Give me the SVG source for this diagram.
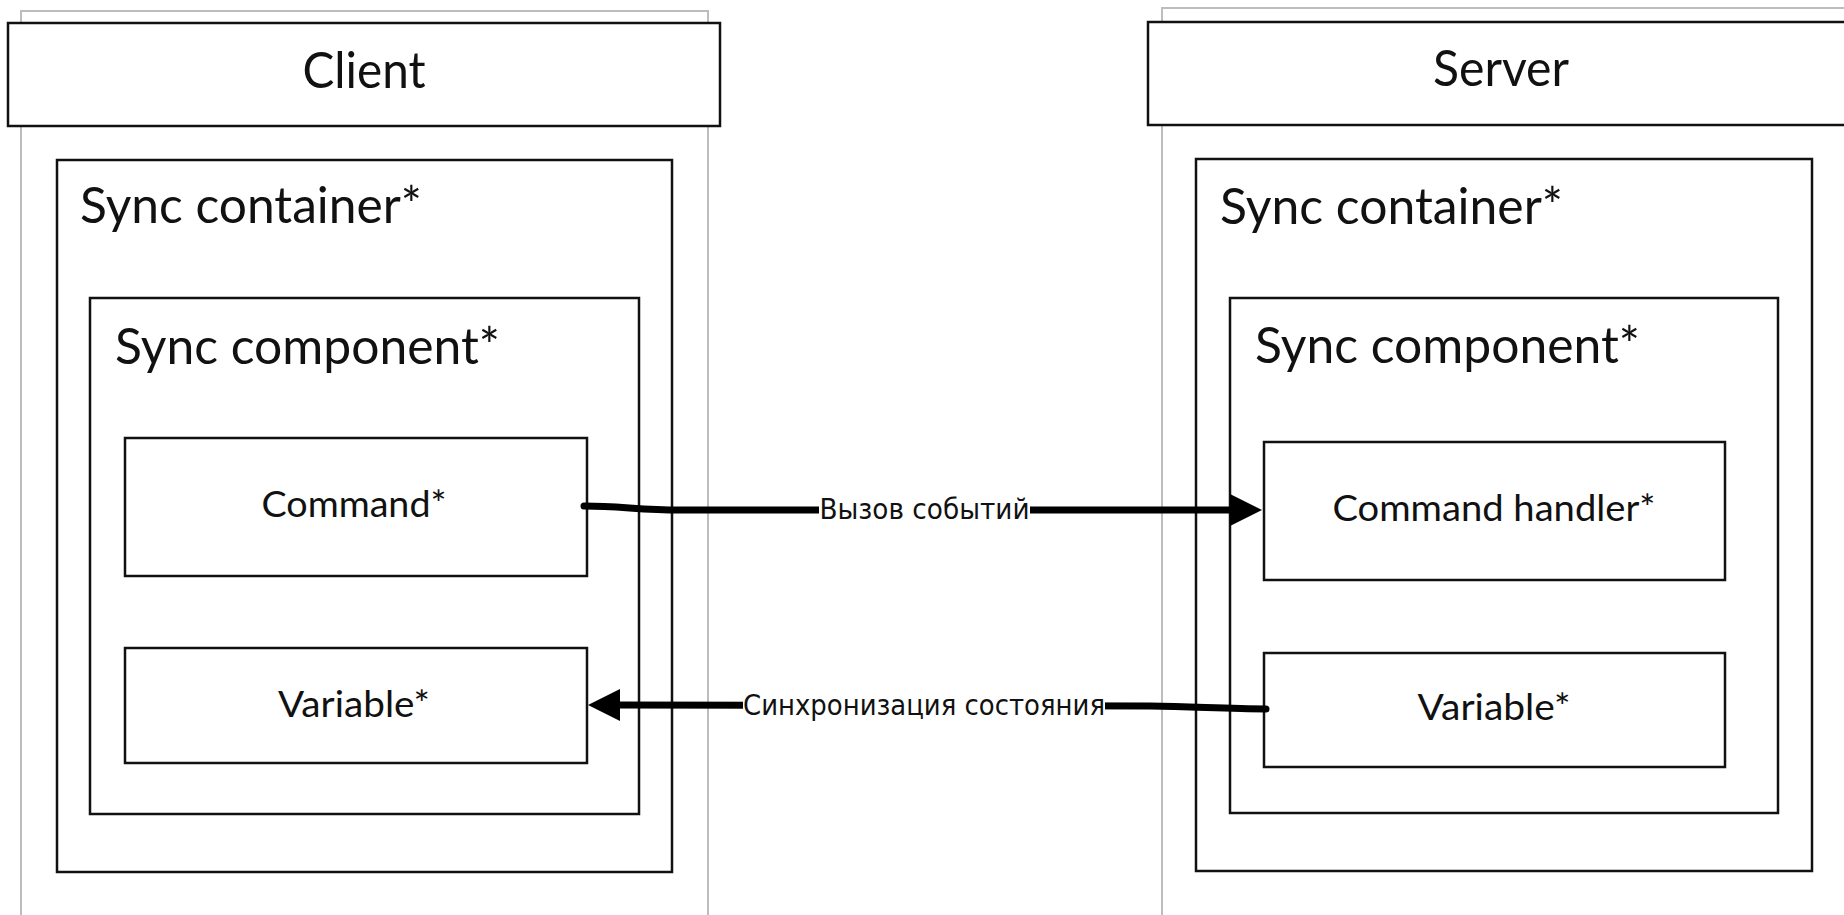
<svg xmlns="http://www.w3.org/2000/svg" width="1844" height="915" viewBox="0 0 1844 915">
<style>
.lane{fill:none;stroke:#bdbdbd;stroke-width:2}
.box{fill:#fff;stroke:#111;stroke-width:2.5}
.t{font-family:Lato,"Liberation Sans",sans-serif;fill:#111}
.title{font-size:50px}
.lbl{font-size:37px}
.edge{fill:none;stroke:#000;stroke-width:7;stroke-linecap:round}
.head{fill:#000}
.elbl{font-family:"DejaVu Sans Condensed","DejaVu Sans",sans-serif;font-size:28px;fill:#111}
</style>
<rect width="1844" height="915" fill="#fff"/>

<g id="client">
  <rect class="lane" x="21" y="11" width="687" height="920"/>
  <rect class="box" x="8" y="23" width="712" height="103"/>
  <text class="t title" x="364" y="88" text-anchor="middle" textLength="123" lengthAdjust="spacingAndGlyphs">Client</text>
</g>
<g id="client-sync-container">
  <rect class="box" x="57" y="160" width="615" height="712"/>
  <text class="t title" x="80" y="223" textLength="342" lengthAdjust="spacingAndGlyphs">Sync container*</text>
</g>
<g id="client-sync-component">
  <rect class="box" x="90" y="298" width="549" height="516"/>
  <text class="t title" x="115" y="364" textLength="385" lengthAdjust="spacingAndGlyphs">Sync component*</text>
</g>
<g id="client-command">
  <rect class="box" x="125" y="438" width="462" height="138"/>
  <text class="t lbl" x="354" y="517" text-anchor="middle" textLength="185" lengthAdjust="spacingAndGlyphs">Command*</text>
</g>
<g id="client-variable">
  <rect class="box" x="125" y="648" width="462" height="115"/>
  <text class="t lbl" x="354" y="717" text-anchor="middle" textLength="152" lengthAdjust="spacingAndGlyphs">Variable*</text>
</g>

<g id="server">
  <rect class="lane" x="1162" y="8" width="687" height="920"/>
  <rect class="box" x="1148" y="22" width="712" height="103"/>
  <text class="t title" x="1501" y="86" text-anchor="middle" textLength="136" lengthAdjust="spacingAndGlyphs">Server</text>
</g>
<g id="server-sync-container">
  <rect class="box" x="1196" y="159" width="616" height="712"/>
  <text class="t title" x="1220" y="224" textLength="343" lengthAdjust="spacingAndGlyphs">Sync container*</text>
</g>
<g id="server-sync-component">
  <rect class="box" x="1230" y="298" width="548" height="515"/>
  <text class="t title" x="1255" y="363" textLength="385" lengthAdjust="spacingAndGlyphs">Sync component*</text>
</g>
<g id="server-command-handler">
  <rect class="box" x="1264" y="442" width="461" height="138"/>
  <text class="t lbl" x="1494" y="521" text-anchor="middle" textLength="323" lengthAdjust="spacingAndGlyphs">Command handler*</text>
</g>
<g id="server-variable">
  <rect class="box" x="1264" y="653" width="461" height="114"/>
  <text class="t lbl" x="1494" y="720" text-anchor="middle" textLength="153" lengthAdjust="spacingAndGlyphs">Variable*</text>
</g>

<g id="connectors">
  <path class="edge" d="M584,506 C620,506 640,510 680,510 L1234,510"/>
  <polygon class="head" points="1230,494 1262,510 1230,526"/>
  <rect x="819" y="493" width="211" height="32" fill="#fff"/>
  <text class="elbl" x="819.5" y="519" textLength="210" lengthAdjust="spacingAndGlyphs">Вызов событий</text>

  <path class="edge" d="M1266,709 C1230,709 1200,707 1150,706 L616,705"/>
  <polygon class="head" points="620,689 588,705 620,721"/>
  <rect x="743" y="689" width="362" height="32" fill="#fff"/>
  <text class="elbl" x="743" y="715" textLength="362" lengthAdjust="spacingAndGlyphs">Синхронизация состояния</text>
</g>
</svg>
